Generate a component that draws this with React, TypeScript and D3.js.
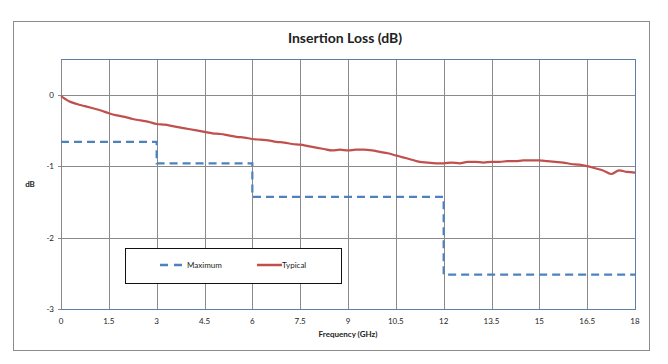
import React, { useEffect, useRef } from 'react';
import * as d3 from 'd3';

// x axis ticks (GHz) and y axis ticks (dB)
const xTicks = [0, 1.5, 3, 4.5, 6, 7.5, 9, 10.5, 12, 13.5, 15, 16.5, 18];
const yTicks = [0, -1, -2, -3];

// Maximum spec: step edges and levels
const maxFreq = [0, 3, 6, 12, 18];
const maxLoss = [-0.66, -0.96, -1.43, -2.52];

// Typical measured insertion loss, every 0.25 GHz
const typFreq = [
  0, 0.25, 0.5, 0.75, 1, 1.25, 1.5, 1.75, 2, 2.25, 2.5, 2.75, 3, 3.25, 3.5, 3.75,
  4, 4.25, 4.5, 4.75, 5, 5.25, 5.5, 5.75, 6, 6.25, 6.5, 6.75, 7, 7.25, 7.5, 7.75,
  8, 8.25, 8.5, 8.75, 9, 9.25, 9.5, 9.75, 10, 10.25, 10.5, 10.75, 11, 11.25, 11.5, 11.75,
  12, 12.25, 12.5, 12.75, 13, 13.25, 13.5, 13.75, 14, 14.25, 14.5, 14.75, 15, 15.25, 15.5, 15.75,
  16, 16.25, 16.5, 16.75, 17, 17.25, 17.5, 17.75, 18
];
const typLoss = [
  -0.02, -0.09, -0.13, -0.16, -0.19, -0.22, -0.26, -0.29, -0.31, -0.34, -0.36, -0.38, -0.41, -0.42, -0.44, -0.46,
  -0.48, -0.5, -0.52, -0.54, -0.55, -0.57, -0.59, -0.6, -0.62, -0.63, -0.64, -0.66, -0.67, -0.69, -0.7, -0.72,
  -0.74, -0.76, -0.78, -0.77, -0.78, -0.77, -0.77, -0.78, -0.8, -0.82, -0.85, -0.88, -0.91, -0.94, -0.95, -0.96,
  -0.96, -0.95, -0.96, -0.94, -0.94, -0.95, -0.94, -0.94, -0.93, -0.93, -0.92, -0.92, -0.92, -0.93, -0.94, -0.95,
  -0.97, -0.98, -1.0, -1.03, -1.06, -1.11, -1.06, -1.08, -1.09
];

const FONT = 'Lato, "Open Sans", sans-serif';
const BLUE = '#4f81bd';
const RED = '#c0504d';

export default function App() {
  const ref = useRef<SVGSVGElement>(null);

  useEffect(() => {
    const svg = d3.select(ref.current);
    svg.selectAll('*').remove();

    const W = 668, H = 364;
    // plot area
    const left = 61, right = 635, top = 59, bottom = 309;

    const x = d3.scaleLinear().domain([0, 18]).range([left, right]);
    const y = d3.scaleLinear().domain([-3, 0.5]).range([bottom, top]);

    svg.append('rect').attr('width', W).attr('height', H).attr('fill', '#fff');

    // outer chart frame
    svg.append('rect')
      .attr('x', 13.5).attr('y', 21.5).attr('width', 636).attr('height', 329)
      .attr('fill', 'none').attr('stroke', '#8c8c8c').attr('stroke-width', 1);

    // title
    svg.append('text')
      .text('Insertion Loss (dB)')
      .attr('x', 345).attr('y', 43)
      .attr('text-anchor', 'middle')
      .attr('font-family', FONT).attr('font-weight', 'bold').attr('font-size', 14)
      .attr('fill', '#222');

    // grid
    const grid = svg.append('g').attr('stroke', '#8a8a8a').attr('stroke-width', 1);
    xTicks.forEach(t => {
      if (t === 0) return;
      grid.append('line')
        .attr('x1', Math.round(x(t)) + 0.5).attr('x2', Math.round(x(t)) + 0.5)
        .attr('y1', top).attr('y2', bottom);
    });
    yTicks.forEach(t => {
      if (t === -3) return;
      grid.append('line')
        .attr('x1', left - 3).attr('x2', right)
        .attr('y1', Math.round(y(t)) + 0.5).attr('y2', Math.round(y(t)) + 0.5);
    });
    grid.append('line').attr('x1', left - 3).attr('x2', left).attr('y1', bottom + 0.5).attr('y2', bottom + 0.5);

    // plot area border
    svg.append('line').attr('x1', left + 0.5).attr('x2', left + 0.5).attr('y1', top).attr('y2', bottom)
      .attr('stroke', '#8a8a8a');
    svg.append('line').attr('x1', left).attr('x2', right).attr('y1', top + 0.5).attr('y2', top + 0.5)
      .attr('stroke', '#5d7ea6');
    svg.append('line').attr('x1', right + 0.5).attr('x2', right + 0.5).attr('y1', top).attr('y2', bottom)
      .attr('stroke', '#5d7ea6');
    svg.append('line').attr('x1', left).attr('x2', right + 1).attr('y1', bottom + 0.5).attr('y2', bottom + 0.5)
      .attr('stroke', '#5d7ea6').attr('stroke-width', 1.2);

    // axis labels
    const labels = svg.append('g').attr('font-family', FONT).attr('font-size', 8).attr('fill', '#222');
    xTicks.forEach(t => {
      labels.append('text').text(String(t))
        .attr('x', x(t)).attr('y', bottom + 15).attr('text-anchor', 'middle');
    });
    yTicks.forEach(t => {
      labels.append('text').text(String(t))
        .attr('x', left - 7).attr('y', y(t) + 3).attr('text-anchor', 'end');
    });
    labels.append('text').text('Frequency (GHz)')
      .attr('x', 348).attr('y', 337).attr('text-anchor', 'middle').attr('font-weight', 'bold').attr('font-size', 8);
    labels.append('text').text('dB')
      .attr('x', 30).attr('y', 187).attr('text-anchor', 'middle').attr('font-weight', 'bold').attr('font-size', 8);

    // maximum spec (step line)
    const maxPts: [number, number][] = [];
    maxLoss.forEach((v, i) => {
      maxPts.push([maxFreq[i], v]);
      maxPts.push([maxFreq[i + 1], v]);
    });
    const line = d3.line<[number, number]>().x(d => x(d[0])).y(d => y(d[1]));
    svg.append('path')
      .attr('d', line(maxPts))
      .attr('fill', 'none').attr('stroke', BLUE).attr('stroke-width', 2.2)
      .attr('stroke-dasharray', '8,5');

    // typical curve
    const typPts: [number, number][] = typFreq.map((f, i) => [f, typLoss[i]]);
    svg.append('path')
      .attr('d', line.curve(d3.curveMonotoneX)(typPts))
      .attr('fill', 'none').attr('stroke', RED).attr('stroke-width', 2.2);

    // legend
    const lg = svg.append('g');
    lg.append('rect')
      .attr('x', 125.5).attr('y', 248.5).attr('width', 216).attr('height', 35)
      .attr('fill', '#fff').attr('stroke', '#111').attr('stroke-width', 1);
    lg.append('line')
      .attr('x1', 160).attr('x2', 183).attr('y1', 265).attr('y2', 265)
      .attr('stroke', BLUE).attr('stroke-width', 2.5).attr('stroke-dasharray', '8,6');
    lg.append('text').text('Maximum')
      .attr('x', 187).attr('y', 268)
      .attr('font-family', FONT).attr('font-size', 8).attr('fill', '#222');
    lg.append('line')
      .attr('x1', 257).attr('x2', 282).attr('y1', 265).attr('y2', 265)
      .attr('stroke', RED).attr('stroke-width', 2.5);
    lg.append('text').text('Typical')
      .attr('x', 282).attr('y', 268)
      .attr('font-family', FONT).attr('font-size', 8).attr('fill', '#222');
  }, []);

  return (
    <svg ref={ref} width={668} height={364}
      style={{ position: 'absolute', left: 0, top: 0, display: 'block' }} />
  );
}
